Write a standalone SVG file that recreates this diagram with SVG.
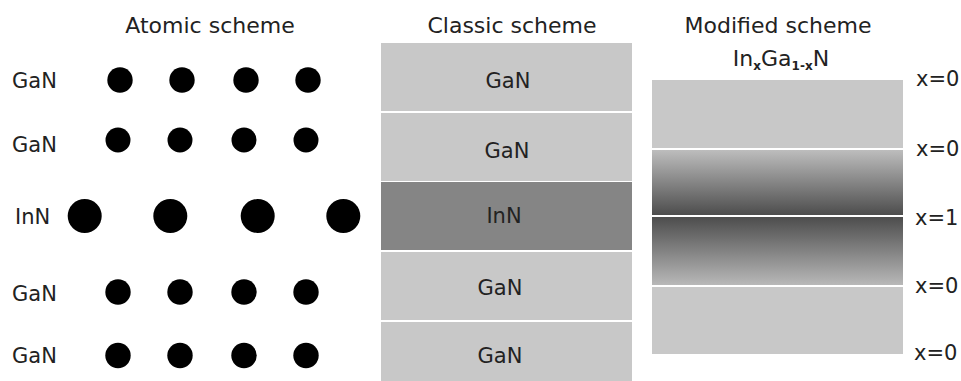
<svg xmlns="http://www.w3.org/2000/svg" width="961" height="381" viewBox="0 0 961 381">
<style>
text{font-family:"DejaVu Sans","Liberation Sans",sans-serif;fill:#222;}
.t{font-size:22px;text-anchor:middle;}
.l{font-size:21px;}
.c{font-size:21px;text-anchor:middle;}
.dot{fill:#000;}
.light{fill:#c8c8c8;}
.dark{fill:#858585;}
</style>
<defs>
<linearGradient id="gDown" x1="0" y1="0" x2="0" y2="1">
<stop offset="0" stop-color="#bdbdbd"/>
<stop offset="1" stop-color="#4d4d4d"/>
</linearGradient>
<linearGradient id="gUp" x1="0" y1="0" x2="0" y2="1">
<stop offset="0" stop-color="#4d4d4d"/>
<stop offset="1" stop-color="#b8b8b8"/>
</linearGradient>
</defs>
<rect width="961" height="381" fill="#fff"/>

<g id="atomic">
<text class="t" x="210" y="33">Atomic scheme</text>
<g id="atomic-row1">
<text class="l" x="12" y="88">GaN</text>
<circle class="dot" cx="120" cy="80" r="12.7"/>
<circle class="dot" cx="182" cy="80" r="12.7"/>
<circle class="dot" cx="246" cy="80" r="12.7"/>
<circle class="dot" cx="308" cy="80" r="12.7"/>
</g>
<g id="atomic-row2">
<text class="l" x="12" y="152">GaN</text>
<circle class="dot" cx="118" cy="140" r="12.5"/>
<circle class="dot" cx="180" cy="140" r="12.5"/>
<circle class="dot" cx="244" cy="140" r="12.5"/>
<circle class="dot" cx="306" cy="140" r="12.5"/>
</g>
<g id="atomic-row3">
<text class="l" x="15" y="224">InN</text>
<circle class="dot" cx="84.7" cy="216" r="17"/>
<circle class="dot" cx="170.3" cy="216" r="17"/>
<circle class="dot" cx="257.7" cy="216" r="17"/>
<circle class="dot" cx="343.3" cy="216" r="17"/>
</g>
<g id="atomic-row4">
<text class="l" x="12" y="301">GaN</text>
<circle class="dot" cx="118" cy="292" r="12.7"/>
<circle class="dot" cx="180" cy="292" r="12.7"/>
<circle class="dot" cx="244" cy="292" r="12.7"/>
<circle class="dot" cx="306" cy="292" r="12.7"/>
</g>
<g id="atomic-row5">
<text class="l" x="12" y="363">GaN</text>
<circle class="dot" cx="118" cy="355.5" r="12.7"/>
<circle class="dot" cx="180" cy="355.5" r="12.7"/>
<circle class="dot" cx="244" cy="355.5" r="12.7"/>
<circle class="dot" cx="306" cy="355.5" r="12.7"/>
</g>
</g>

<g id="classic">
<text class="t" x="512" y="33">Classic scheme</text>
<g id="classic-1"><rect class="light" x="381" y="43" width="251" height="68"/><text class="c" x="508" y="88">GaN</text></g>
<g id="classic-2"><rect class="light" x="381" y="113" width="251" height="68"/><text class="c" x="507" y="158">GaN</text></g>
<g id="classic-3"><rect class="dark" x="381" y="182" width="251" height="68"/><text class="c" x="504" y="223">InN</text></g>
<g id="classic-4"><rect class="light" x="381" y="252" width="251" height="68"/><text class="c" x="500" y="295">GaN</text></g>
<g id="classic-5"><rect class="light" x="381" y="322" width="251" height="59"/><text class="c" x="500" y="363">GaN</text></g>
</g>

<g id="modified">
<text class="t" x="778" y="33">Modified scheme</text>
<text class="t" x="781" y="66">In<tspan font-size="12" font-weight="bold" dy="4">x</tspan><tspan dy="-4">Ga</tspan><tspan font-size="12" font-weight="bold" dy="4">1-x</tspan><tspan dy="-4">N</tspan></text>
<g id="mod-1"><rect class="light" x="652" y="80" width="251" height="68"/></g>
<g id="mod-2"><rect fill="url(#gDown)" x="652" y="150" width="251" height="65"/></g>
<g id="mod-3"><rect fill="url(#gUp)" x="652" y="217" width="251" height="68"/></g>
<g id="mod-4"><rect class="light" x="652" y="287" width="251" height="67"/></g>
<g id="x-labels">
<text class="l" x="916" y="86">x=0</text>
<text class="l" x="916" y="156">x=0</text>
<text class="l" x="915" y="225">x=1</text>
<text class="l" x="915" y="293">x=0</text>
<text class="l" x="914" y="360">x=0</text>
</g>
</g>
</svg>
